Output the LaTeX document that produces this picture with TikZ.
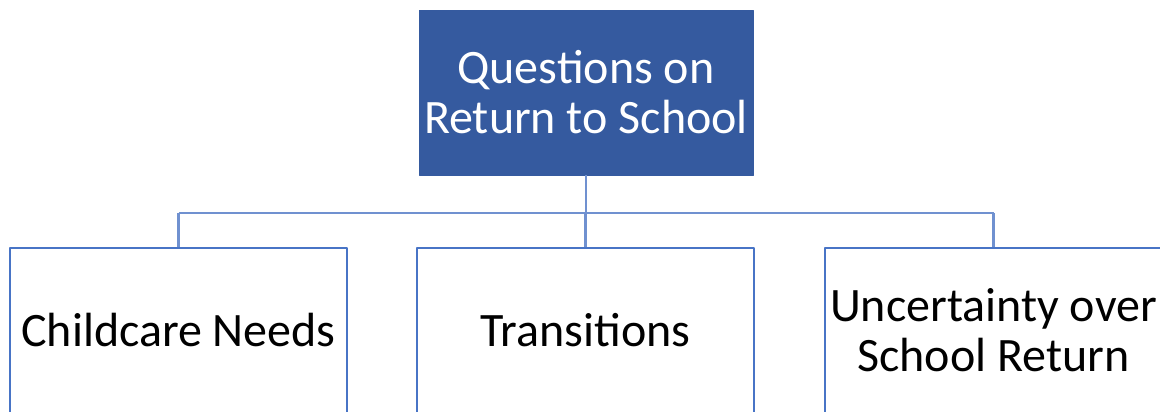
\documentclass[tikz,border=0pt]{standalone}
\usepackage{fontspec}
\setmainfont{Carlito}
\usetikzlibrary{positioning}
\definecolor{topblue}{RGB}{53,90,159}
\definecolor{edgeblue}{RGB}{72,116,198}
\definecolor{linkblue}{RGB}{112,145,208}
\begin{document}
\begin{tikzpicture}[x=1pt,y=-1pt,line join=round,font=\fontsize{48}{50}\selectfont,
	topbox/.style={fill=topblue,draw=topblue,text=white,minimum width=334pt,minimum height=165pt,align=center,inner sep=0pt},
	childbox/.style={fill=white,draw=edgeblue,line width=2.2pt,minimum width=337pt,minimum height=165pt,align=center,inner sep=0pt},
	link/.style={draw=linkblue,line width=2.2pt}]
	\useasboundingbox (0,0) rectangle (1160,412);
	\clip (0,0) rectangle (1160,412);
	%%Khung
	\node[topbox] (Q) at (586,92.5) {Questions on\\Return to School};
	\foreach \n/\x/\t in {C/178.5/Childcare Needs,T/585.5/Transitions,U/993.5/{Uncertainty over\\School Return}}{
			\node[childbox] (\n) at (\x,330.5) {\t};
		}
	\coordinate (J) at (586,213);
	%%Nhanh
	\draw[link] (Q.south)--(J) (C.north|-J)--(U.north|-J);
	\foreach \n in {C,T,U}{
			\draw[link] (\n.north|-J)--(\n.north);
		}
\end{tikzpicture}
\end{document}
